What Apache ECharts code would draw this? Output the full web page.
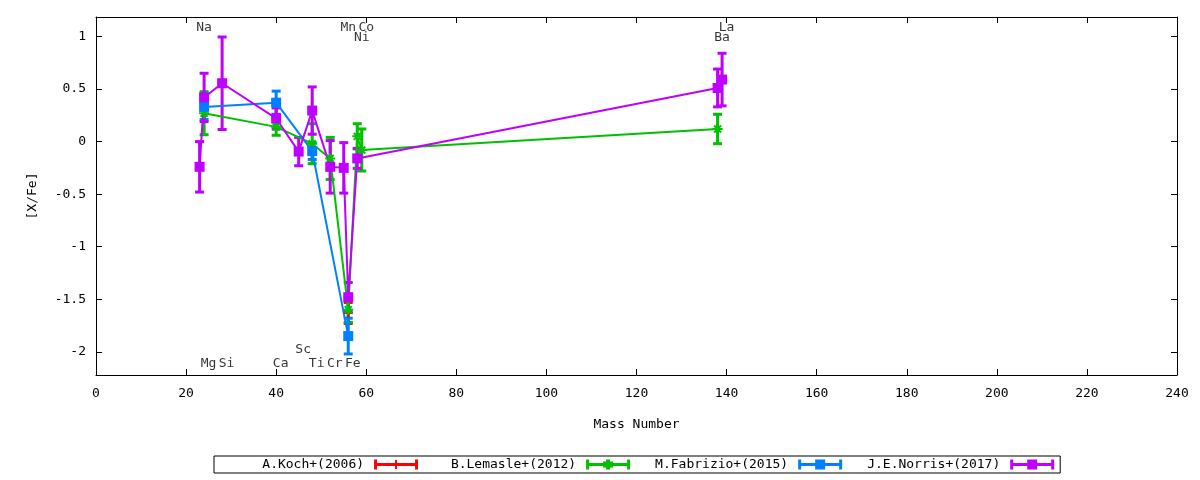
<!DOCTYPE html>
<html>
<head>
<meta charset="utf-8">
<script src="https://cdn.jsdelivr.net/npm/echarts@6/dist/echarts.min.js"></script>
<style>
  html, body { margin: 0; padding: 0; background: #fff; }
  #chart { width: 1200px; height: 480px; }
</style>
</head>
<body>
<div id="chart"></div>
<script>
// values: mass number, [X/Fe], error
const kochMass = [56]
const kochVal = [-1.63]
const kochErr = [0.1]

const lemasleMass = [24, 40, 48, 52, 56, 58, 59, 138]
const lemasleVal = [0.27, 0.14, -0.02, -0.16, -1.6, 0.05, -0.08, 0.12]
const lemasleErr = [0.205, 0.08, 0.19, 0.2, 0.12, 0.12, 0.2, 0.14]

const fabrizioMass = [24, 40, 48, 56]
const fabrizioVal = [0.33, 0.37, -0.09, -1.85]
const fabrizioErr = [0.12, 0.11, 0.08, 0.17]

const norrisMass = [23, 24, 28, 40, 45, 48, 52, 55, 56, 58, 138, 139]
const norrisVal = [-0.24, 0.42, 0.555, 0.22, -0.095, 0.295, -0.24, -0.25, -1.48, -0.16, 0.51, 0.59]
const norrisErr = [0.24, 0.23, 0.44, 0.1, 0.135, 0.225, 0.25, 0.24, 0.14, 0.095, 0.18, 0.25]

// element labels
const labelNames = ['Na', 'Mn', 'Co', 'La', 'Ni', 'Ba', 'Sc', 'Mg', 'Si', 'Ca', 'Ti', 'Cr', 'Fe']
const labelMass = [23, 55, 59, 139, 58, 138, 45, 24, 28, 40, 48, 52, 56]
const labelY = [1.085, 1.085, 1.085, 1.085, 0.985, 0.985, -1.975, -2.11, -2.11, -2.11, -2.11, -2.11, -2.11]

const yTicks = [-2, -1.5, -1, -0.5, 0, 0.5, 1]

const FONT = 'DejaVu Sans Mono'
const colors = ['#ff0000', '#00c000', '#0080ff', '#c000ff']
const names = ['A.Koch+(2006)', 'B.Lemasle+(2012)', 'M.Fabrizio+(2015)', 'J.E.Norris+(2017)']

const PLUS = 'path://M-1,-4.5h2v9h-2z M-4.5,-1h9v2h-9z'
const STAR = 'path://M-1,-5h2v10h-2z M-5,-1h10v2h-10z M-4.2,-2.8l1.4,-1.4l7,7l-1.4,1.4z M2.8,-4.2l1.4,1.4l-7,7l-1.4,-1.4z'

// legend glyphs: |--o--|
const capBar = 'M0,0h3v10h-3z M3,3.5h38v3h-38z M41,0h3v10h-3z '
const legendIcons = [
  'path://' + capBar + 'M21,0.5h2v9h-2z M17.5,3.5h9v3h-9z',
  'path://' + capBar + 'M20,0h4v10h-4z M17,2h10v6h-10z',
  'path://' + capBar + 'M17,0h10v10h-10z',
  'path://' + capBar + 'M17,0h10v10h-10z'
]

const zip = (m, v, e) => m.map((x, i) => [x, v[i], e[i]])

const errorBars = (color) => (params, api) => {
  const x = api.value(0), v = api.value(1), e = api.value(2)
  const top = api.coord([x, v + e])
  const bot = api.coord([x, v - e])
  const cap = 4.5
  const style = { stroke: color, lineWidth: 3, fill: null }
  return {
    type: 'group',
    children: [
      { type: 'line', shape: { x1: top[0], y1: top[1], x2: bot[0], y2: bot[1] }, style },
      { type: 'line', shape: { x1: top[0] - cap, y1: top[1], x2: top[0] + cap, y2: top[1] }, style },
      { type: 'line', shape: { x1: bot[0] - cap, y1: bot[1], x2: bot[0] + cap, y2: bot[1] }, style }
    ]
  }
}

const sets = [
  { data: zip(kochMass, kochVal, kochErr), symbol: PLUS, size: 9 },
  { data: zip(lemasleMass, lemasleVal, lemasleErr), symbol: STAR, size: 10 },
  { data: zip(fabrizioMass, fabrizioVal, fabrizioErr), symbol: 'rect', size: 10 },
  { data: zip(norrisMass, norrisVal, norrisErr), symbol: 'rect', size: 10 }
]

const series = []
sets.forEach((s, i) => {
  series.push({
    name: names[i] + ' err',
    type: 'custom',
    renderItem: errorBars(colors[i]),
    encode: { x: 0, y: 1 },
    data: s.data,
    silent: true
  })
  series.push({
    name: names[i],
    type: 'line',
    data: s.data.map(d => [d[0], d[1]]),
    color: colors[i],
    symbol: s.symbol,
    symbolSize: s.size,
    showAllSymbol: true,
    lineStyle: { width: 2, color: colors[i] },
    itemStyle: { color: colors[i] },
    silent: true
  })
})

series.push({
  name: 'labels',
  type: 'scatter',
  data: labelNames.map((n, i) => [labelMass[i], labelY[i], n]),
  symbolSize: 2,
  itemStyle: { color: 'rgba(0,0,0,0)' },
  silent: true,
  z: 5,
  label: {
    show: true,
    position: 'inside',
    offset: [4.5, 0],
    formatter: p => p.data[2],
    fontFamily: FONT,
    fontSize: 13,
    color: '#000'
  }
})

const axisText = { fontFamily: FONT, fontSize: 13, color: '#000' }
const frame = { show: true, onZero: false, lineStyle: { color: '#000', width: 1 } }

const chart = echarts.init(document.getElementById('chart'))
chart.setOption({
  animation: false,
  backgroundColor: '#fff',
  grid: { left: 96, right: 23, top: 17, bottom: 105 },
  legend: {
    data: names.map((n, i) => ({ name: n, icon: legendIcons[i] })),
    left: 214,
    top: 456,
    orient: 'horizontal',
    align: 'right',
    itemWidth: 44,
    itemHeight: 10,
    itemGap: 25,
    padding: [2, 6, 2, 17],
    borderColor: '#000',
    borderWidth: 1,
    selectedMode: false,
    formatter: n => n.padStart(17, ' '),
    textStyle: { fontFamily: FONT, fontSize: 13, color: '#000', padding: [0, 5, 0, 0] }
  },
  xAxis: [
    {
      type: 'value', min: 0, max: 240, interval: 20,
      name: 'Mass Number', nameLocation: 'middle', nameGap: 43,
      nameTextStyle: axisText,
      axisLine: frame,
      axisTick: { inside: true, length: 6, lineStyle: { color: '#000' } },
      axisLabel: { ...axisText, margin: 12 },
      splitLine: { show: false }
    },
    {
      type: 'value', min: 0, max: 240, interval: 20, position: 'top',
      axisLine: frame,
      axisTick: { inside: true, length: 6, lineStyle: { color: '#000' } },
      axisLabel: { show: false },
      splitLine: { show: false }
    }
  ],
  yAxis: [
    {
      type: 'value', min: -2.22, max: 1.185,
      name: '[X/Fe]', nameLocation: 'middle', nameGap: 57,
      nameTextStyle: axisText,
      axisLine: frame,
      axisTick: { inside: true, length: 6, customValues: yTicks, lineStyle: { color: '#000' } },
      axisLabel: { ...axisText, margin: 10, customValues: yTicks },
      splitLine: { show: false }
    },
    {
      type: 'value', min: -2.22, max: 1.185, position: 'right',
      axisLine: frame,
      axisTick: { inside: true, length: 6, customValues: yTicks, lineStyle: { color: '#000' } },
      axisLabel: { show: false },
      splitLine: { show: false }
    }
  ],
  series
})
</script>
</body>
</html>
